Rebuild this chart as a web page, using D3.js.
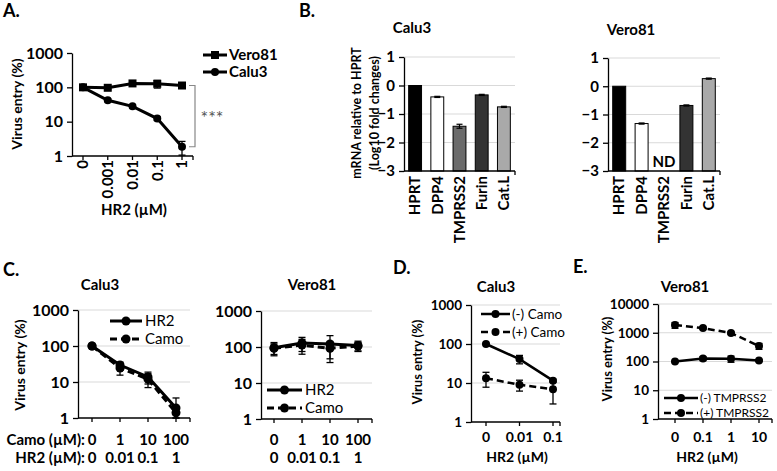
<!DOCTYPE html>
<html><head><meta charset="utf-8">
<script src="https://cdn.jsdelivr.net/npm/d3@7"></script>
<style>body{margin:0;background:#fff} svg{display:block} text{font-family:Lato,'Open Sans',sans-serif;fill:#000}</style>
</head><body><svg id="c" width="777" height="471"></svg>
<script>
// ---------- DATA ----------
// Panel A
const aDoses = ["0","0.001","0.01","0.1","1"];
const aVero81 = [100, 97, 130, 127, 113];
const aVero81Err = [6, 12, 18, 32, 12];
const aCalu3 = [100, 42, 28, 12.3, 1.86];
const aCalu3Err = [4, 4, 3, 1.5, 0.8];
// Panel B
const bGenes = ["HPRT","DPP4","TMPRSS2","Furin","Cat.L"];
const bColors = ["#000000","#ffffff","#6b6b6b","#333333","#a9a9a9"];
const bCalu3 = [0, -0.4, -1.43, -0.33, -0.75];
const bCalu3Err = [0, 0.02, 0.07, 0.02, 0.02];
const bVero81 = [0, -1.32, null, -0.68, 0.27];
const bVero81Err = [0, 0.02, 0, 0.02, 0.02];
// Panel C
const cCamoDoses = ["0","1","10","100"];
const cHR2Doses = ["0","0.01","0.1","1"];
const cCaluHR2 = [100, 29.6, 13.8, 1.9];
const cCaluHR2Err = [3, 6, 5, 1.7];
const cCaluCamo = [100, 24.5, 12, 1.4];
const cCaluCamoErr = [3, 9, 5, 0.4];
const cVeroHR2 = [95, 130, 122, 110];
const cVeroHR2Err = [38, 55, 85, 35];
const cVeroCamo = [92, 113, 92, 106];
const cVeroCamoErr = [30, 50, 45, 28];
// Panel D
const dDoses = ["0","0.01","0.1"];
const dMinusCamo = [100, 41, 11.5];
const dMinusCamoErr = [4, 10, 1];
const dPlusCamo = [13.3, 9, 6.9];
const dPlusCamoErr = [5.5, 2.8, 4];
// Panel E
const eDoses = ["0","0.1","1","10"];
const eMinus = [100, 127, 124, 108];
const eMinusErr = [5, 20, 30, 8];
const ePlus = [1850, 1450, 980, 345];
const ePlusErr = [420, 120, 80, 80];

// ---------- DRAW ----------
const svg = d3.select("#c");
svg.append("rect").attr("width",777).attr("height",471).attr("fill","#fff");

function txt(x, y, s, o = {}) {
  const t = svg.append("text").attr("x", x).attr("y", y).text(s)
    .attr("font-size", o.size || 14)
    .attr("font-weight", o.weight || "bold")
    .attr("text-anchor", o.anchor || "start");
  if (o.rot) t.attr("transform", `rotate(${o.rot},${x},${y})`);
  if (o.fill) t.style("fill", o.fill);
  if (o.dy) t.attr("dy", o.dy);
  return t;
}

function marker(g, shape, x, y, r) {
  if (shape === "square") {
    g.append("rect").attr("x", x - r).attr("y", y - r).attr("width", 2*r).attr("height", 2*r).attr("fill", "#000");
  } else {
    g.append("circle").attr("cx", x).attr("cy", y).attr("r", r).attr("fill", "#000");
  }
}

function linePanel(o) {
  const g = svg.append("g");
  const x = d3.scalePoint().domain(o.cats).range(o.xr);
  const y = d3.scaleLog().domain(o.yd).range(o.yr);
  const yb = o.yr[0];
  (o.grid || []).forEach(t => {
    g.append("line").attr("x1", o.ax[0]).attr("x2", o.ax[1]).attr("y1", y(t)).attr("y2", y(t))
      .attr("stroke", "#d9d9d9").attr("stroke-width", 1);
  });
  const ya = g.append("g").attr("transform", `translate(${o.ax[0]},0)`)
    .call(d3.axisLeft(y).tickValues(o.ticks).tickFormat(d3.format("d")).tickSize(5).tickSizeOuter(0).tickPadding(4));
  ya.selectAll("path,line").attr("stroke", "#000").attr("stroke-width", 1.3);
  ya.selectAll("text").attr("font-size", o.tickSize || 14).attr("font-weight", "bold")
    .attr("font-family", "Lato,'Open Sans',sans-serif").style("fill","#000");
  // x axis
  g.append("line").attr("x1", o.ax[0]).attr("x2", o.ax[1]).attr("y1", yb).attr("y2", yb)
    .attr("stroke", "#000").attr("stroke-width", 1.3);
  o.cats.concat(["__end"]).forEach(c => {
    const xx = c === "__end" ? o.ax[1] : x(c);
    g.append("line").attr("x1", xx).attr("x2", xx).attr("y1", yb).attr("y2", yb + 4)
      .attr("stroke", "#000").attr("stroke-width", 1.3);
  });
  // series
  o.series.forEach(s => {
    const eg = g.append("g").attr("stroke", "#000").attr("stroke-width", 1.3);
    s.vals.forEach((v, i) => {
      const e = s.errs[i];
      const lo = Math.max(v - e, o.yd[0]), hi = v + e;
      const xx = x(o.cats[i]);
      eg.append("line").attr("x1", xx).attr("x2", xx).attr("y1", y(lo)).attr("y2", y(hi));
      eg.append("line").attr("x1", xx - 3.5).attr("x2", xx + 3.5).attr("y1", y(lo)).attr("y2", y(lo));
      eg.append("line").attr("x1", xx - 3.5).attr("x2", xx + 3.5).attr("y1", y(hi)).attr("y2", y(hi));
    });
  });
  o.series.forEach(s => {
    const line = d3.line().x((d, i) => x(o.cats[i])).y(d => y(d));
    g.append("path").attr("d", line(s.vals)).attr("fill", "none").attr("stroke", "#000")
      .attr("stroke-width", o.lw || 3).attr("stroke-dasharray", s.dash ? "7,4" : null);
    s.vals.forEach((v, i) => marker(g, s.shape || "circle", x(o.cats[i]), y(v), o.mr || 4));
  });
  // legend
  if (o.legend) {
    o.legend.items.forEach((it, i) => {
      const ly = o.legend.y[i];
      g.append("line").attr("x1", o.legend.x0).attr("x2", o.legend.x1).attr("y1", ly).attr("y2", ly)
        .attr("stroke", "#000").attr("stroke-width", o.lw || 3).attr("stroke-dasharray", it.dash ? "7,4" : null);
      marker(g, it.shape || "circle", (o.legend.x0 + o.legend.x1) / 2, ly, o.mr || 4);
      txt(o.legend.tx, ly, it.label, {size: o.legend.size || 14, weight: o.legend.weight || "normal", dy: "0.35em"});
    });
  }
  return {x, y};
}

function barPanel(o) {
  const g = svg.append("g");
  const x = d3.scaleBand().domain(bGenes).range(o.ax).paddingInner(0.42).paddingOuter(0.21);
  const y = d3.scaleLinear().domain([-3, 1]).range(o.yr);
  [1, 0, -1, -2].forEach(t => {
    g.append("line").attr("x1", o.ax[0]).attr("x2", o.ax[1]).attr("y1", y(t)).attr("y2", y(t))
      .attr("stroke", "#d9d9d9").attr("stroke-width", 1);
  });
  o.vals.forEach((v, i) => {
    if (v === null) return;
    const c = bGenes[i];
    g.append("rect").attr("x", x(c)).attr("width", x.bandwidth())
      .attr("y", y(v)).attr("height", y(-3) - y(v))
      .attr("fill", bColors[i]).attr("stroke", "#000").attr("stroke-width", 1);
    const e = o.errs[i];
    if (e > 0) {
      const cx = x(c) + x.bandwidth() / 2;
      g.append("line").attr("x1", cx).attr("x2", cx).attr("y1", y(v - e)).attr("y2", y(v + e)).attr("stroke", "#000").attr("stroke-width", 1.2);
      [v - e, v + e].forEach(b => g.append("line").attr("x1", cx - 3).attr("x2", cx + 3).attr("y1", y(b)).attr("y2", y(b)).attr("stroke", "#000").attr("stroke-width", 1.2));
    }
  });
  const ya = g.append("g").attr("transform", `translate(${o.ax[0]},0)`)
    .call(d3.axisLeft(y).tickValues([-3, -2, -1, 0, 1]).tickFormat(d3.format("d")).tickSize(5).tickSizeOuter(0).tickPadding(4));
  ya.selectAll("path,line").attr("stroke", "#000").attr("stroke-width", 1.3);
  ya.selectAll("text").attr("font-size", 15).attr("font-weight", "bold")
    .attr("font-family", "Lato,'Open Sans',sans-serif").style("fill","#000");
  g.append("line").attr("x1", o.ax[0]).attr("x2", o.ax[1]).attr("y1", y(-3)).attr("y2", y(-3)).attr("stroke", "#000").attr("stroke-width", 1.3);
  g.append("line").attr("x1", o.ax[1]).attr("x2", o.ax[1]).attr("y1", y(-3)).attr("y2", y(-3) + 4).attr("stroke", "#000").attr("stroke-width", 1.3);
  bGenes.forEach(c => {
    const cx = x(c) + x.bandwidth() / 2;
    txt(cx, y(-3) + 5, c, {rot: -90, anchor: "end", size: 15, dy: "0.35em"});
  });
  o.vals.forEach((v, i) => {
    if (v === null) txt(x(bGenes[i]) + x.bandwidth() / 2, y(-3) - 4, "ND", {anchor: "middle", size: 15});
  });
  return {x, y};
}

// ---------- Panel A ----------
txt(3, 17, "A.", {size: 18});
const A = linePanel({
  cats: aDoses, xr: [83, 182], ax: [72, 193], yd: [1, 1000], yr: [156, 53],
  ticks: [1, 10, 100, 1000], tickSize: 16, lw: 3, mr: 4,
  series: [
    {vals: aVero81, errs: aVero81Err, shape: "square"},
    {vals: aCalu3, errs: aCalu3Err, shape: "circle"}
  ],
  legend: {x0: 203, x1: 227, tx: 229, y: [55, 72], size: 15, weight: "bold",
    items: [{label: "Vero81", shape: "square"}, {label: "Calu3", shape: "circle"}]}
});
aDoses.forEach(c => txt(A.x(c), 160, c, {rot: -90, anchor: "end", size: 15, dy: "0.35em"}));
txt(17, 104, "Virus entry (%)", {rot: -90, anchor: "middle", size: 14, dy: "0.35em"});
txt(134, 215, "HR2 (µM)", {anchor: "middle", size: 15});
// significance bracket
svg.append("path").attr("d", `M189,${A.y(113)}H195V${A.y(1.86)}H189`).attr("fill", "none").attr("stroke", "#888").attr("stroke-width", 1.2);
txt(212, 124, "***", {anchor: "middle", size: 18, weight: "normal", fill: "#555"});

// ---------- Panel B ----------
txt(299, 17, "B.", {size: 18});
txt(412, 33, "Calu3", {anchor: "middle", size: 15});
txt(631, 35, "Vero81", {anchor: "middle", size: 15});
barPanel({ax: [404, 515], yr: [171, 57], vals: bCalu3, errs: bCalu3Err});
barPanel({ax: [608, 720], yr: [171, 58], vals: bVero81, errs: bVero81Err});
txt(357, 113, "mRNA relative to HPRT", {rot: -90, anchor: "middle", size: 12.5, dy: "0.35em"});
txt(375, 113, "(Log10 fold changes)", {rot: -90, anchor: "middle", size: 12.5, dy: "0.35em"});

// ---------- Panel C ----------
txt(3, 276, "C.", {size: 18});
txt(100, 290, "Calu3", {anchor: "middle", size: 15});
txt(312, 290, "Vero81", {anchor: "middle", size: 15});
const C1 = linePanel({
  cats: cCamoDoses, xr: [92, 176], ax: [78, 190], yd: [1, 1000], yr: [418, 310],
  ticks: [1, 10, 100, 1000], tickSize: 16, grid: [10, 100, 1000], lw: 3, mr: 4.5,
  series: [
    {vals: cCaluCamo, errs: cCaluCamoErr, dash: true},
    {vals: cCaluHR2, errs: cCaluHR2Err}
  ],
  legend: {x0: 110, x1: 142, tx: 145, y: [321, 339], size: 15,
    items: [{label: "HR2"}, {label: "Camo", dash: true}]}
});
const C2 = linePanel({
  cats: cCamoDoses, xr: [274, 358], ax: [261, 372], yd: [1, 1000], yr: [419, 311],
  ticks: [1, 10, 100, 1000], tickSize: 16, grid: [10, 100, 1000], lw: 3, mr: 4.5,
  series: [
    {vals: cVeroCamo, errs: cVeroCamoErr, dash: true},
    {vals: cVeroHR2, errs: cVeroHR2Err}
  ],
  legend: {x0: 267, x1: 302, tx: 305, y: [390, 408], size: 15,
    items: [{label: "HR2"}, {label: "Camo", dash: true}]}
});
txt(20, 365, "Virus entry (%)", {rot: -90, anchor: "middle", size: 14, dy: "0.35em"});
txt(85, 445, "Camo (µM):", {anchor: "end", size: 15});
txt(85, 463, "HR2 (µM):", {anchor: "end", size: 15});
cCamoDoses.forEach((c, i) => {
  txt(C1.x(c), 445, c, {anchor: "middle", size: 15});
  txt(C2.x(c), 445, c, {anchor: "middle", size: 15});
  txt(C1.x(c), 463, cHR2Doses[i], {anchor: "middle", size: 15});
  txt(C2.x(c), 463, cHR2Doses[i], {anchor: "middle", size: 15});
});

// ---------- Panel D ----------
txt(393, 274, "D.", {size: 18});
txt(496, 292, "Calu3", {anchor: "middle", size: 15});
const D = linePanel({
  cats: dDoses, xr: [486, 553], ax: [471, 560], yd: [1, 1000], yr: [422, 305],
  ticks: [1, 10, 100, 1000], tickSize: 13.5, grid: [10, 100, 1000], lw: 2.5, mr: 4,
  series: [
    {vals: dMinusCamo, errs: dMinusCamoErr},
    {vals: dPlusCamo, errs: dPlusCamoErr, dash: true}
  ],
  legend: {x0: 481, x1: 510, tx: 512, y: [314, 332], size: 13.5,
    items: [{label: "(-) Camo"}, {label: "(+) Camo", dash: true}]}
});
dDoses.forEach(c => txt(D.x(c), 442, c, {anchor: "middle", size: 14}));
txt(517, 462, "HR2  (µM)", {anchor: "middle", size: 14});
txt(417, 362, "Virus entry  (%)", {rot: -90, anchor: "middle", size: 13, dy: "0.35em"});

// ---------- Panel E ----------
txt(573, 273, "E.", {size: 18});
txt(685, 292, "Vero81", {anchor: "middle", size: 15});
const E = linePanel({
  cats: eDoses, xr: [675, 759], ax: [658, 772], yd: [1, 10000], yr: [419, 304],
  ticks: [1, 10, 100, 1000, 10000], tickSize: 13.5, grid: [10, 100, 1000, 10000], lw: 2.5, mr: 4,
  series: [
    {vals: eMinus, errs: eMinusErr},
    {vals: ePlus, errs: ePlusErr, dash: true}
  ],
  legend: {x0: 664, x1: 698, tx: 700, y: [398, 413], size: 12,
    items: [{label: "(-) TMPRSS2"}, {label: "(+) TMPRSS2", dash: true}]}
});
eDoses.forEach(c => txt(E.x(c), 442, c, {anchor: "middle", size: 14}));
txt(707, 462, "HR2 (µM)", {anchor: "middle", size: 14});
txt(607, 359, "Virus entry (%)", {rot: -90, anchor: "middle", size: 13, dy: "0.35em"});
</script></body></html>
